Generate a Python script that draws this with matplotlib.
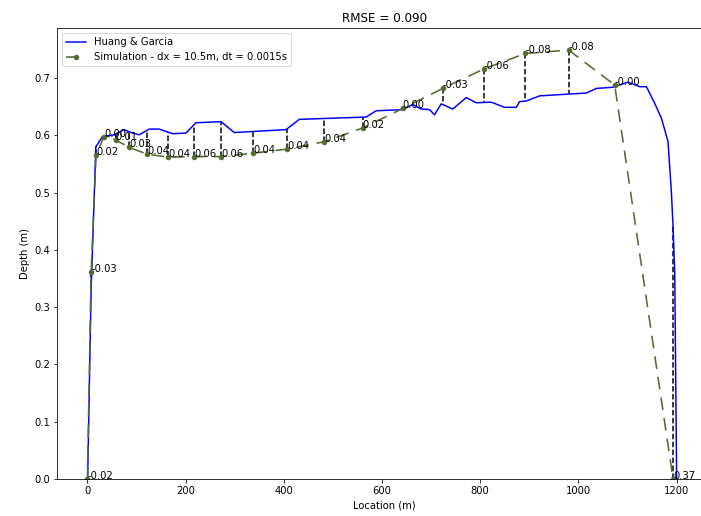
import numpy as np
import matplotlib
matplotlib.use('Agg')
import matplotlib.pyplot as plt

# reference profile (Huang & Garcia)
ref_x = [0, 7.5, 17.1, 30.6, 54.4, 74.8, 88.5, 105.4, 125.8, 146.2, 173.3, 200.6,
         221.0, 272.0, 299.0, 404.5, 431.6, 567.6, 588.0, 642.2, 662.6, 679.7,
         696.6, 706.8, 720.5, 744.1, 771.5, 791.8, 822.4, 849.5, 873.4, 880.1,
         893.8, 920.9, 1016.1, 1036.5, 1070.3, 1100.9, 1124.8, 1138.4, 1155.3,
         1169.0, 1182.5, 1189.4, 1192.7, 1196.1, 1200.0]
ref_y = [-0.02, 0.33, 0.580, 0.598, 0.601, 0.610, 0.605, 0.601, 0.611, 0.611, 0.603,
         0.604, 0.622, 0.624, 0.605, 0.610, 0.628, 0.632, 0.643, 0.645, 0.654,
         0.646, 0.645, 0.636, 0.655, 0.646, 0.666, 0.657, 0.658, 0.649, 0.649,
         0.659, 0.660, 0.669, 0.674, 0.682, 0.684, 0.693, 0.685, 0.685, 0.656,
         0.630, 0.589, 0.499, 0.441, 0.360, 0.0]

# simulation points
sim_x = [0, 7.5, 17.7, 34.0, 57.9, 85.0, 122.3, 165.0, 217.5, 273.0, 337.8, 406.5,
         482.6, 560.7, 642.2, 723.8, 807.3, 891.7, 980.0, 1073.8, 1192.7]
sim_y = [0.0, 0.362, 0.566, 0.598, 0.592, 0.579, 0.567, 0.562, 0.563, 0.563, 0.569,
         0.576, 0.589, 0.613, 0.647, 0.682, 0.716, 0.743, 0.749, 0.688, 0.0]
diff_labels = ['-0.02', '-0.03', '0.02', '0.00', '0.01', '0.03', '0.04', '0.04',
               '0.06', '0.06', '0.04', '0.04', '0.04', '0.02', '0.00', '-0.03',
               '-0.06', '-0.08', '-0.08', '-0.00', '0.37']

fig = plt.figure(figsize=(701/72, 516/72), dpi=72)
ax = fig.add_axes([57/701, 37/516, (712-57)/701, (488-37)/516])

ref_at_sim = np.interp(sim_x, ref_x, ref_y)
for xs, ys, yr in zip(sim_x, sim_y, ref_at_sim):
    ax.plot([xs, xs], [ys, yr], 'k--')

ax.plot(ref_x, ref_y, color='blue', label='Huang & Garcia')
ax.plot(sim_x, sim_y, color='#556b2f', marker='o', markersize=4.5, linestyle='--',
        dashes=(8, 5), linewidth=1.6, label='Simulation - dx = 10.5m, dt = 0.0015s')

for xs, ys, lab in zip(sim_x, sim_y, diff_labels):
    ax.text(xs, ys, lab)

ax.set_xlim(-62, 1272)
ax.set_ylim(0, 0.7875)
ax.set_xlabel('Location (m)')
ax.set_ylabel('Depth (m)')
ax.set_title('RMSE = 0.090')
ax.legend(loc='upper left')

plt.savefig('out.png', dpi=72)
